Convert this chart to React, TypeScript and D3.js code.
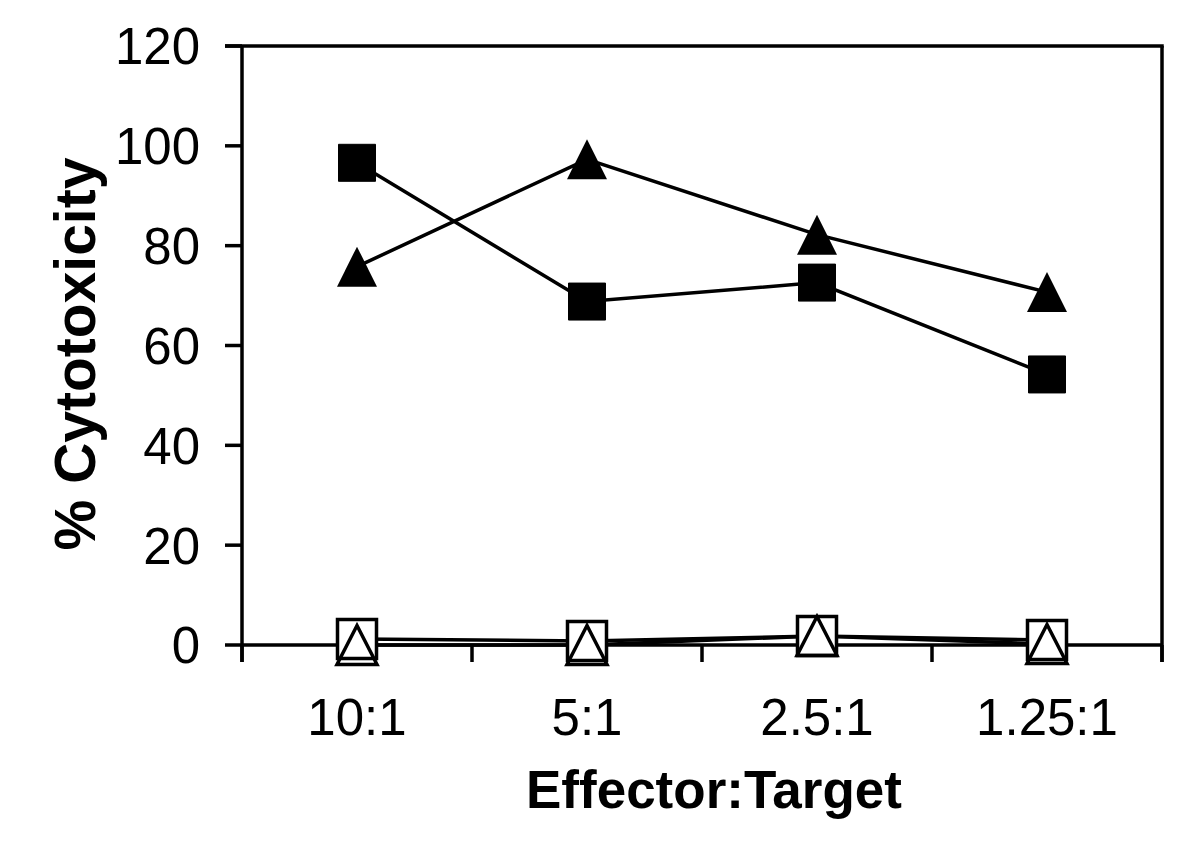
import React from "react";
import * as d3 from "d3";

const categories = ["10:1", "5:1", "2.5:1", "1.25:1"];
const yTicks = [0, 20, 40, 60, 80, 100, 120];
const filledSquares = [96.6, 68.8, 72.6, 54.2];
const filledTriangles = [75.8, 97.3, 82.2, 70.7];
const openSquares = [1.2, 0.8, 1.8, 1.0];
const openTriangles = [0.0, 0.0, 1.8, 0.2];

const FONT = "'Liberation Sans', Arial, Helvetica, sans-serif";

export default function App() {
  const left = 242, right = 1162, top = 46, bottom = 645;
  const x = d3.scaleBand<string>().domain(categories).range([left, right]).padding(0);
  const y = d3.scaleLinear().domain([0, 120]).range([bottom, top]);
  const cx = (c: string) => (x(c) as number) + x.bandwidth() / 2;
  const line = d3
    .line<number>()
    .x((_, i) => cx(categories[i]))
    .y((v) => y(v));
  const boundaries = [...categories.map((c) => x(c) as number), right];

  const sq = (s: number) => `M${-s / 2},${-s / 2}h${s}v${s}h${-s}Z`;
  const tri = (w: number, h: number) => `M0,${-h / 2}L${w / 2},${h / 2}L${-w / 2},${h / 2}Z`;

  return (
    <svg
      width={1200}
      height={861}
      style={{ position: "absolute", left: 0, top: 0, background: "#fff" }}
      fontFamily={FONT}
    >
      <rect x={0} y={0} width={1200} height={861} fill="#fff" />
      {/* plot frame */}
      <g stroke="#000" strokeWidth={3.5} fill="none">
        <line x1={left - 17} x2={right + 1.75} y1={top} y2={top} />
        <line x1={right} x2={right} y1={top} y2={bottom + 17} />
        <line x1={left} x2={left} y1={top} y2={bottom + 17} />
        <line x1={left} x2={right} y1={bottom} y2={bottom} />
        {yTicks.map((t) => (
          <line key={t} x1={left - 17} x2={left} y1={y(t)} y2={y(t)} />
        ))}
        {boundaries.map((b, i) => (
          <line key={i} x1={b} x2={b} y1={bottom} y2={bottom + 17} />
        ))}
      </g>
      {/* y tick labels */}
      {yTicks.map((t) => (
        <text key={t} x={200} y={y(t)} dy="0.36em" textAnchor="end" fontSize={51} fill="#000">
          {t}
        </text>
      ))}
      {/* x tick labels */}
      {categories.map((c) => (
        <text key={c} x={cx(c)} y={735} textAnchor="middle" fontSize={51} fill="#000">
          {c}
        </text>
      ))}
      {/* axis titles */}
      <text x={714} y={808} textAnchor="middle" fontSize={53} fontWeight="bold" fill="#000">
        Effector:Target
      </text>
      <text
        transform={`translate(95,${354}) rotate(-90)`}
        textAnchor="middle"
        fontSize={57}
        fontWeight="bold"
        fill="#000"
      >
        % Cytotoxicity
      </text>

      {/* series lines */}
      <g fill="none" stroke="#000" strokeWidth={3.5}>
        <path d={line(openTriangles) || ""} />
        <path d={line(openSquares) || ""} />
        <path d={line(filledSquares) || ""} />
        <path d={line(filledTriangles) || ""} />
      </g>
      {/* markers */}
      {openSquares.map((v, i) => (
        <path
          key={"os" + i}
          transform={`translate(${cx(categories[i])},${y(v)})`}
          d={sq(39)}
          fill="#fff"
          stroke="#000"
          strokeWidth={3.5}
        />
      ))}
      {openTriangles.map((v, i) => (
        <path
          key={"ot" + i}
          transform={`translate(${cx(categories[i])},${y(v)})`}
          d={tri(40, 39)}
          fill="none"
          stroke="#000"
          strokeWidth={3.5}
        />
      ))}
      {filledSquares.map((v, i) => (
        <path
          key={"fs" + i}
          transform={`translate(${cx(categories[i])},${y(v)})`}
          d={sq(37)}
          fill="#000"
          stroke="#000"
          strokeWidth={1}
          strokeLinejoin="round"
        />
      ))}
      {filledTriangles.map((v, i) => (
        <path
          key={"ft" + i}
          transform={`translate(${cx(categories[i])},${y(v)})`}
          d={tri(40, 40)}
          fill="#000"
        />
      ))}
    </svg>
  );
}
